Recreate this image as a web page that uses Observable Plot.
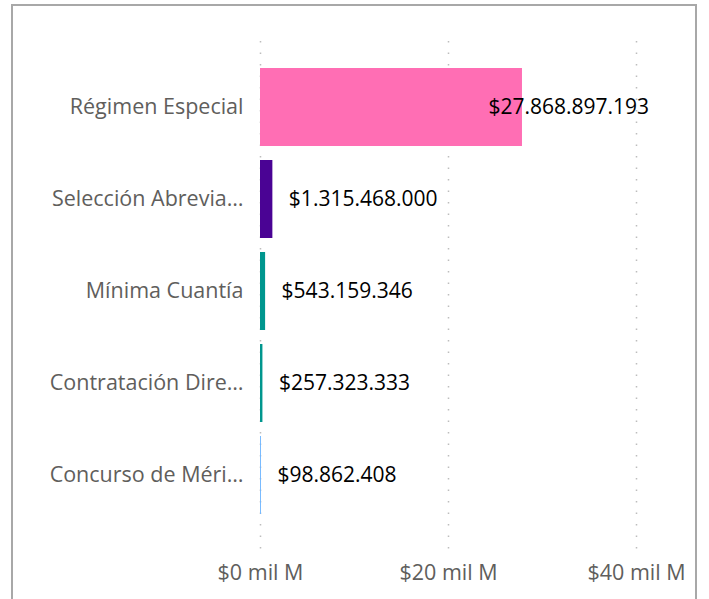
<!DOCTYPE html>
<html>
<head>
<meta charset="utf-8">
<script src="https://cdn.jsdelivr.net/npm/d3@7"></script>
<script src="https://cdn.jsdelivr.net/npm/@observablehq/plot@0.6"></script>
<style>
  html, body { margin: 0; padding: 0; background: #fff; overflow: hidden; }
  #frame { position: absolute; left: 11px; top: 4px; width: 682px; height: 640px; border: 2px solid #a8a8a8; box-sizing: content-box; }
  #chart { position: absolute; left: 0; top: 0; }
  svg { font-family: "Open Sans", "Noto Sans", sans-serif; }
</style>
</head>
<body>
<div id="frame"></div>
<div id="chart"></div>
<script>
const categories = ["Régimen Especial", "Selección Abrevia…", "Mínima Cuantía", "Contratación Dire…", "Concurso de Méri…"];
const values = [27868897193, 1315468000, 543159346, 257323333, 98862408];
const colors = ["#FF6EB4", "#4A0394", "#00968E", "#00968E", "#6FB6FF"];
const xTicks = [0, 20e9, 40e9];

const data = categories.map((c, i) => ({cat: c, value: values[i], color: colors[i], idx: i}));
const fmt = v => "$" + d3.format(",")(v).replace(/,/g, ".");

const chart = Plot.plot({
  width: 709,
  height: 599,
  marginTop: 41,
  marginBottom: 47,
  marginLeft: 260,
  marginRight: 15,
  style: {fontFamily: "'Open Sans', 'Noto Sans', sans-serif", background: "transparent"},
  x: {domain: [0, 40e9], range: [260, 636], axis: null, label: null},
  y: {domain: categories, range: [61, 521], paddingInner: 0.15, paddingOuter: 0.075, axis: null, label: null},
  marks: [
    Plot.ruleX(xTicks, {stroke: "#bdbdbd", strokeWidth: 1.5, strokeDasharray: "1.5,10"}),
    Plot.barX(data, {y: "cat", x: "value", fill: "color"}),
    Plot.axisY({tickSize: 0, tickPadding: 17, fontSize: 21.5, color: "#605e5c", label: null}),
    Plot.axisX({ticks: xTicks, tickSize: 0, tickPadding: 12, fontSize: 21.5, color: "#605e5c", label: null,
      tickFormat: d => "$" + (d / 1e9) + " mil M"}),
    Plot.text(data.filter(d => d.idx === 0), {y: "cat", x: "value", text: d => fmt(d.value), textAnchor: "start", dx: -34, fontSize: 21, fill: "#000"}),
    Plot.text(data.filter(d => d.idx > 0), {y: "cat", x: "value", text: d => fmt(d.value), textAnchor: "start", dx: 16, fontSize: 21, fill: "#000"})
  ]
});
document.getElementById("chart").appendChild(chart);
</script>
</body>
</html>
